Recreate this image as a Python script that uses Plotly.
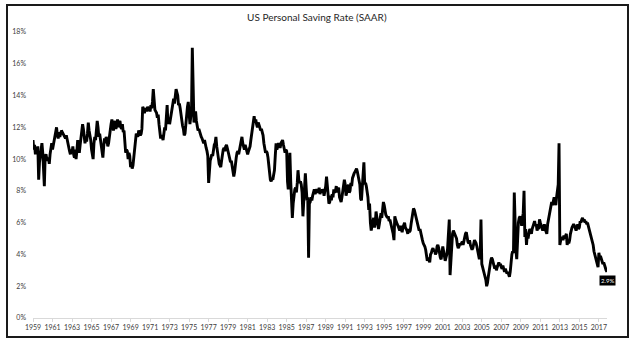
import pandas as pd
import plotly.graph_objects as go

# Monthly US personal saving rate (%), Jan 1959 - Nov 2017
sr_1959_1969 = [
    11.2, 10.6, 10.9, 10.3, 10.7, 10.5, 10.8, 8.7, 9.8, 10.2, 10.9, 11.0,
    10.4, 9.4, 8.3, 10.2, 10.3, 10.0, 9.9, 10.1, 9.7, 10.3, 10.7, 11.0,
    10.6, 10.9, 11.1, 11.3, 11.8, 12.0, 11.5, 11.3, 11.7, 11.4, 11.6, 11.8,
    11.7, 11.6, 11.5, 11.4, 11.3, 11.5, 11.2, 11.0, 10.8, 10.5, 10.3, 10.6,
    10.4, 10.8, 10.3, 10.1, 10.6, 10.0, 10.5, 11.2, 10.7, 10.4, 10.9, 11.3,
    11.6, 12.2, 11.9, 11.3, 11.0, 11.4, 11.1, 11.6, 12.3, 11.8, 11.5, 11.2,
    10.6, 10.1, 10.0, 11.0, 11.4, 11.2, 11.8, 12.4, 12.0, 11.4, 11.6, 11.2,
    10.9, 10.4, 10.1, 10.8, 11.3, 11.0, 11.4, 11.2, 10.8, 11.0, 11.5, 11.8,
    12.2, 12.5, 12.0, 11.8, 12.2, 12.4, 11.9, 12.1, 12.5, 12.0, 12.3, 12.4,
    12.0, 11.9, 12.2, 11.7, 11.8, 11.2, 10.4, 10.6, 10.5, 10.0, 10.4, 10.2,
    9.5, 9.8, 9.4, 9.6, 10.2, 10.8, 11.4, 11.6, 11.5, 11.4, 11.8, 11.7,
]
sr_1970s = [
    11.5, 11.6, 11.9, 13.3, 13.0, 12.9, 13.1, 13.2, 13.0, 13.3, 13.1, 13.2,
    13.0, 13.4, 13.2, 13.6, 14.4, 13.5, 13.1, 13.0, 12.9, 12.6, 12.8, 12.2,
    11.6, 11.3, 11.5, 11.4, 11.2, 11.5, 12.0, 11.8, 12.4, 13.4, 12.2, 12.6,
    12.2, 12.6, 12.9, 13.0, 13.4, 13.8, 13.5, 13.9, 14.4, 14.2, 14.0, 13.4,
    13.5, 13.2, 12.8, 12.4, 12.1, 11.9, 11.5, 11.6, 12.4, 13.1, 13.3, 13.6,
    12.8, 12.2, 12.6, 13.0, 17.0, 13.2, 12.3, 12.8, 13.0, 12.4, 11.9, 11.8,
    11.9, 11.7, 11.5, 11.4, 11.3, 11.1, 11.0, 11.2, 10.8, 10.7, 10.5, 10.2,
    8.5, 9.7, 9.9, 10.1, 10.3, 10.2, 10.6, 10.9, 11.0, 11.4, 10.8, 10.4,
    10.0, 9.7, 9.6, 9.5, 9.9, 10.3, 10.6, 10.7, 10.5, 10.8, 10.9, 10.7,
    10.4, 10.2, 10.0, 9.8, 9.9, 9.6, 9.3, 8.9, 9.2, 9.8, 10.1, 10.4,
]
sr_1980s = [
    10.5, 10.3, 10.6, 10.9, 11.2, 11.4, 11.0, 10.8, 10.6, 10.9, 10.7, 10.4,
    10.3, 10.5, 10.6, 10.8, 11.2, 11.6, 11.9, 12.1, 12.7, 12.3, 12.5, 12.2,
    12.0, 12.3, 12.2, 12.0, 11.8, 11.9, 11.7, 11.5, 11.0, 10.6, 10.4, 10.5,
    10.4, 10.1, 9.6, 9.0, 8.7, 8.6, 8.8, 8.7, 9.0, 9.3, 10.2, 11.0,
    10.6, 10.8, 11.0, 10.9, 10.7, 11.0, 11.1, 11.2, 10.9, 10.6, 10.4, 10.6,
    10.5, 8.6, 8.1, 9.4, 10.4, 8.6, 7.8, 6.3, 7.2, 7.9, 8.1, 8.2,
    7.9, 8.5, 9.3, 8.7, 8.5, 8.6, 8.4, 7.9, 6.4, 7.3, 8.4, 9.1,
    8.2, 7.4, 7.6, 3.8, 7.2, 7.3, 7.6, 7.4, 7.7, 7.9, 8.1, 7.8,
    7.9, 8.1, 8.0, 7.9, 8.2, 7.8, 8.0, 7.9, 8.1, 8.0, 7.7, 8.0,
    8.3, 8.9, 8.2, 7.5, 7.2, 7.3, 7.7, 7.4, 7.8, 7.6, 8.1, 7.9,
]
sr_1990s = [
    8.0, 8.3, 7.9, 8.1, 8.2, 7.6, 7.4, 7.3, 7.6, 7.9, 8.4, 8.7,
    8.4, 7.7, 7.9, 8.2, 8.4, 7.9, 8.0, 8.5, 8.3, 8.8, 9.0, 9.1,
    9.2, 9.3, 9.4, 9.2, 8.9, 8.7, 8.4, 7.5, 7.4, 8.2, 8.8, 9.8,
    8.4, 8.5, 8.3, 7.9, 7.6, 6.8, 7.2, 6.0, 5.5, 5.8, 6.1, 6.3,
    5.7, 6.0, 6.7, 6.2, 6.1, 5.6, 5.9, 6.2, 6.6, 6.3, 7.0, 7.3,
    7.1, 6.7, 6.5, 6.4, 6.3, 6.4, 6.1, 6.2, 6.0, 5.8, 5.6, 5.3,
    4.9, 6.4, 6.2, 6.0, 5.9, 5.8, 5.7, 5.5, 5.8, 5.6, 5.4, 5.7,
    5.8, 6.0, 5.7, 5.6, 5.5, 5.3, 5.6, 5.4, 5.5, 5.9, 6.3, 6.6,
    6.9, 6.8, 6.6, 6.3, 6.1, 5.9, 5.7, 5.5, 5.6, 5.3, 5.2, 4.9,
    4.7, 4.6, 4.5, 4.3, 3.9, 3.6, 3.8, 3.6, 3.5, 4.0, 4.1, 4.3,
]
sr_2000s = [
    4.4, 4.2, 4.3, 4.0, 4.1, 4.5, 4.6, 4.4, 4.0, 3.8, 3.7, 4.1,
    4.5, 4.2, 3.8, 3.6, 3.8, 4.0, 4.4, 6.0, 6.2, 2.7, 3.9, 4.3,
    5.3, 5.5, 5.4, 5.3, 5.2, 5.0, 4.6, 4.4, 4.5, 4.7, 4.6, 4.7,
    4.8, 4.6, 4.9, 5.0, 5.3, 5.4, 5.0, 4.8, 4.7, 4.9, 4.6, 4.5,
    4.3, 4.4, 4.6, 4.9, 4.8, 4.7, 4.5, 4.2, 3.9, 3.7, 3.9, 6.2,
    3.4, 3.1, 2.9, 2.8, 2.6, 2.4, 2.0, 2.2, 2.6, 3.0, 3.4, 3.6,
    3.8, 3.7, 3.5, 3.2, 3.1, 3.3, 3.0, 3.2, 3.4, 3.5, 3.3, 3.4,
    3.2, 3.1, 3.3, 3.0, 2.9, 3.1, 3.0, 2.8, 2.9, 2.7, 2.6, 2.9,
    3.6, 4.0, 4.2, 4.1, 7.9, 5.7, 4.3, 3.7, 5.2, 6.0, 6.3, 6.4,
    6.2, 5.8, 6.3, 6.6, 8.0, 5.1, 5.6, 4.6, 5.3, 5.0, 5.4, 5.6,
]
sr_2010s = [
    5.5, 5.3, 5.6, 5.8, 6.0, 6.1, 5.8, 5.9, 5.5, 5.7, 5.6, 6.2,
    6.0, 5.8, 5.6, 5.5, 5.7, 5.9, 5.6, 5.4, 5.3, 5.9, 6.2, 6.5,
    6.8, 7.0, 7.3, 7.1, 7.4, 7.6, 7.3, 7.1, 7.6, 8.0, 8.4, 11.0,
    4.6, 4.9, 5.0, 5.1, 4.9, 5.2, 5.0, 5.1, 5.3, 4.6, 4.9, 4.7,
    4.9, 5.3, 5.6, 5.7, 5.8, 5.9, 5.8, 5.7, 5.5, 5.7, 5.9, 5.6,
    5.7, 6.1, 6.0, 6.2, 6.3, 6.1, 6.2, 6.0, 6.1, 5.9, 6.0, 5.8,
    5.6, 5.4, 5.3, 5.0, 4.8, 4.6, 4.2, 4.0, 3.7, 3.5, 3.3, 3.2,
    4.1, 3.8, 3.9, 3.7, 3.6, 3.4, 3.5, 3.3, 3.1, 3.0, 2.9,
]

saving_rate = sr_1959_1969 + sr_1970s + sr_1980s + sr_1990s + sr_2000s + sr_2010s
dates = pd.date_range("1959-01-01", periods=len(saving_rate), freq="MS")

tick_years = list(range(1959, 2018, 2))
tick_vals = [pd.Timestamp(f"{y}-01-01") for y in tick_years]
tick_text = [str(y) for y in tick_years]
y_ticks = list(range(0, 19, 2))
y_text = [f"{v}%" for v in y_ticks]

W, H = 640, 349
L, R, T, B = 33, 33, 32, 31
pw, ph = W - L - R, H - T - B

def px(xp):
    return (xp - L) / pw

def py(yp):
    return (H - B - yp) / ph

fig = go.Figure()
fig.add_trace(go.Scatter(
    x=dates, y=saving_rate, mode="lines",
    line=dict(color="#000000", width=2.9),
    hoverinfo="skip", showlegend=False,
))

fig.add_annotation(
    x=dates[-1], y=saving_rate[-1], xref="x", yref="y",
    text=f"{saving_rate[-1]:.1f}%", showarrow=False,
    font=dict(family="Lato", size=6, color="#ffffff"),
    bgcolor="#000000", borderpad=1, yshift=-9,
)

# outer chart border
fig.add_shape(
    type="rect", xref="paper", yref="paper",
    x0=px(7), x1=px(628), y0=py(337), y1=py(5),
    line=dict(color="#1a1a1a", width=2), fillcolor="rgba(0,0,0,0)", layer="below",
)

fig.update_layout(
    width=W, height=H,
    margin=dict(l=L, r=R, t=T, b=B, pad=0),
    paper_bgcolor="#ffffff", plot_bgcolor="#ffffff",
    title=dict(
        text="US Personal Saving Rate (SAAR)",
        x=0.495, xanchor="center", y=1 - 17 / H, yanchor="middle",
        font=dict(family="Lato", size=10, color="#262626"),
    ),
    xaxis=dict(
        type="date",
        range=[dates[0], dates[-1]],
        tickvals=tick_vals, ticktext=tick_text,
        showgrid=False, zeroline=False,
        showline=True, linecolor="#d9d9d9", linewidth=1,
        ticks="outside", ticklen=3, tickcolor="#d9d9d9",
        tickfont=dict(family="Lato", size=7, color="#404040"),
    ),
    yaxis=dict(
        range=[0, 18],
        tickvals=y_ticks, ticktext=y_text,
        showgrid=False, zeroline=False, showline=False,
        ticks="", ticklabelstandoff=6,
        tickfont=dict(family="Lato", size=7, color="#404040"),
    ),
)

fig.write_html("out.html")
